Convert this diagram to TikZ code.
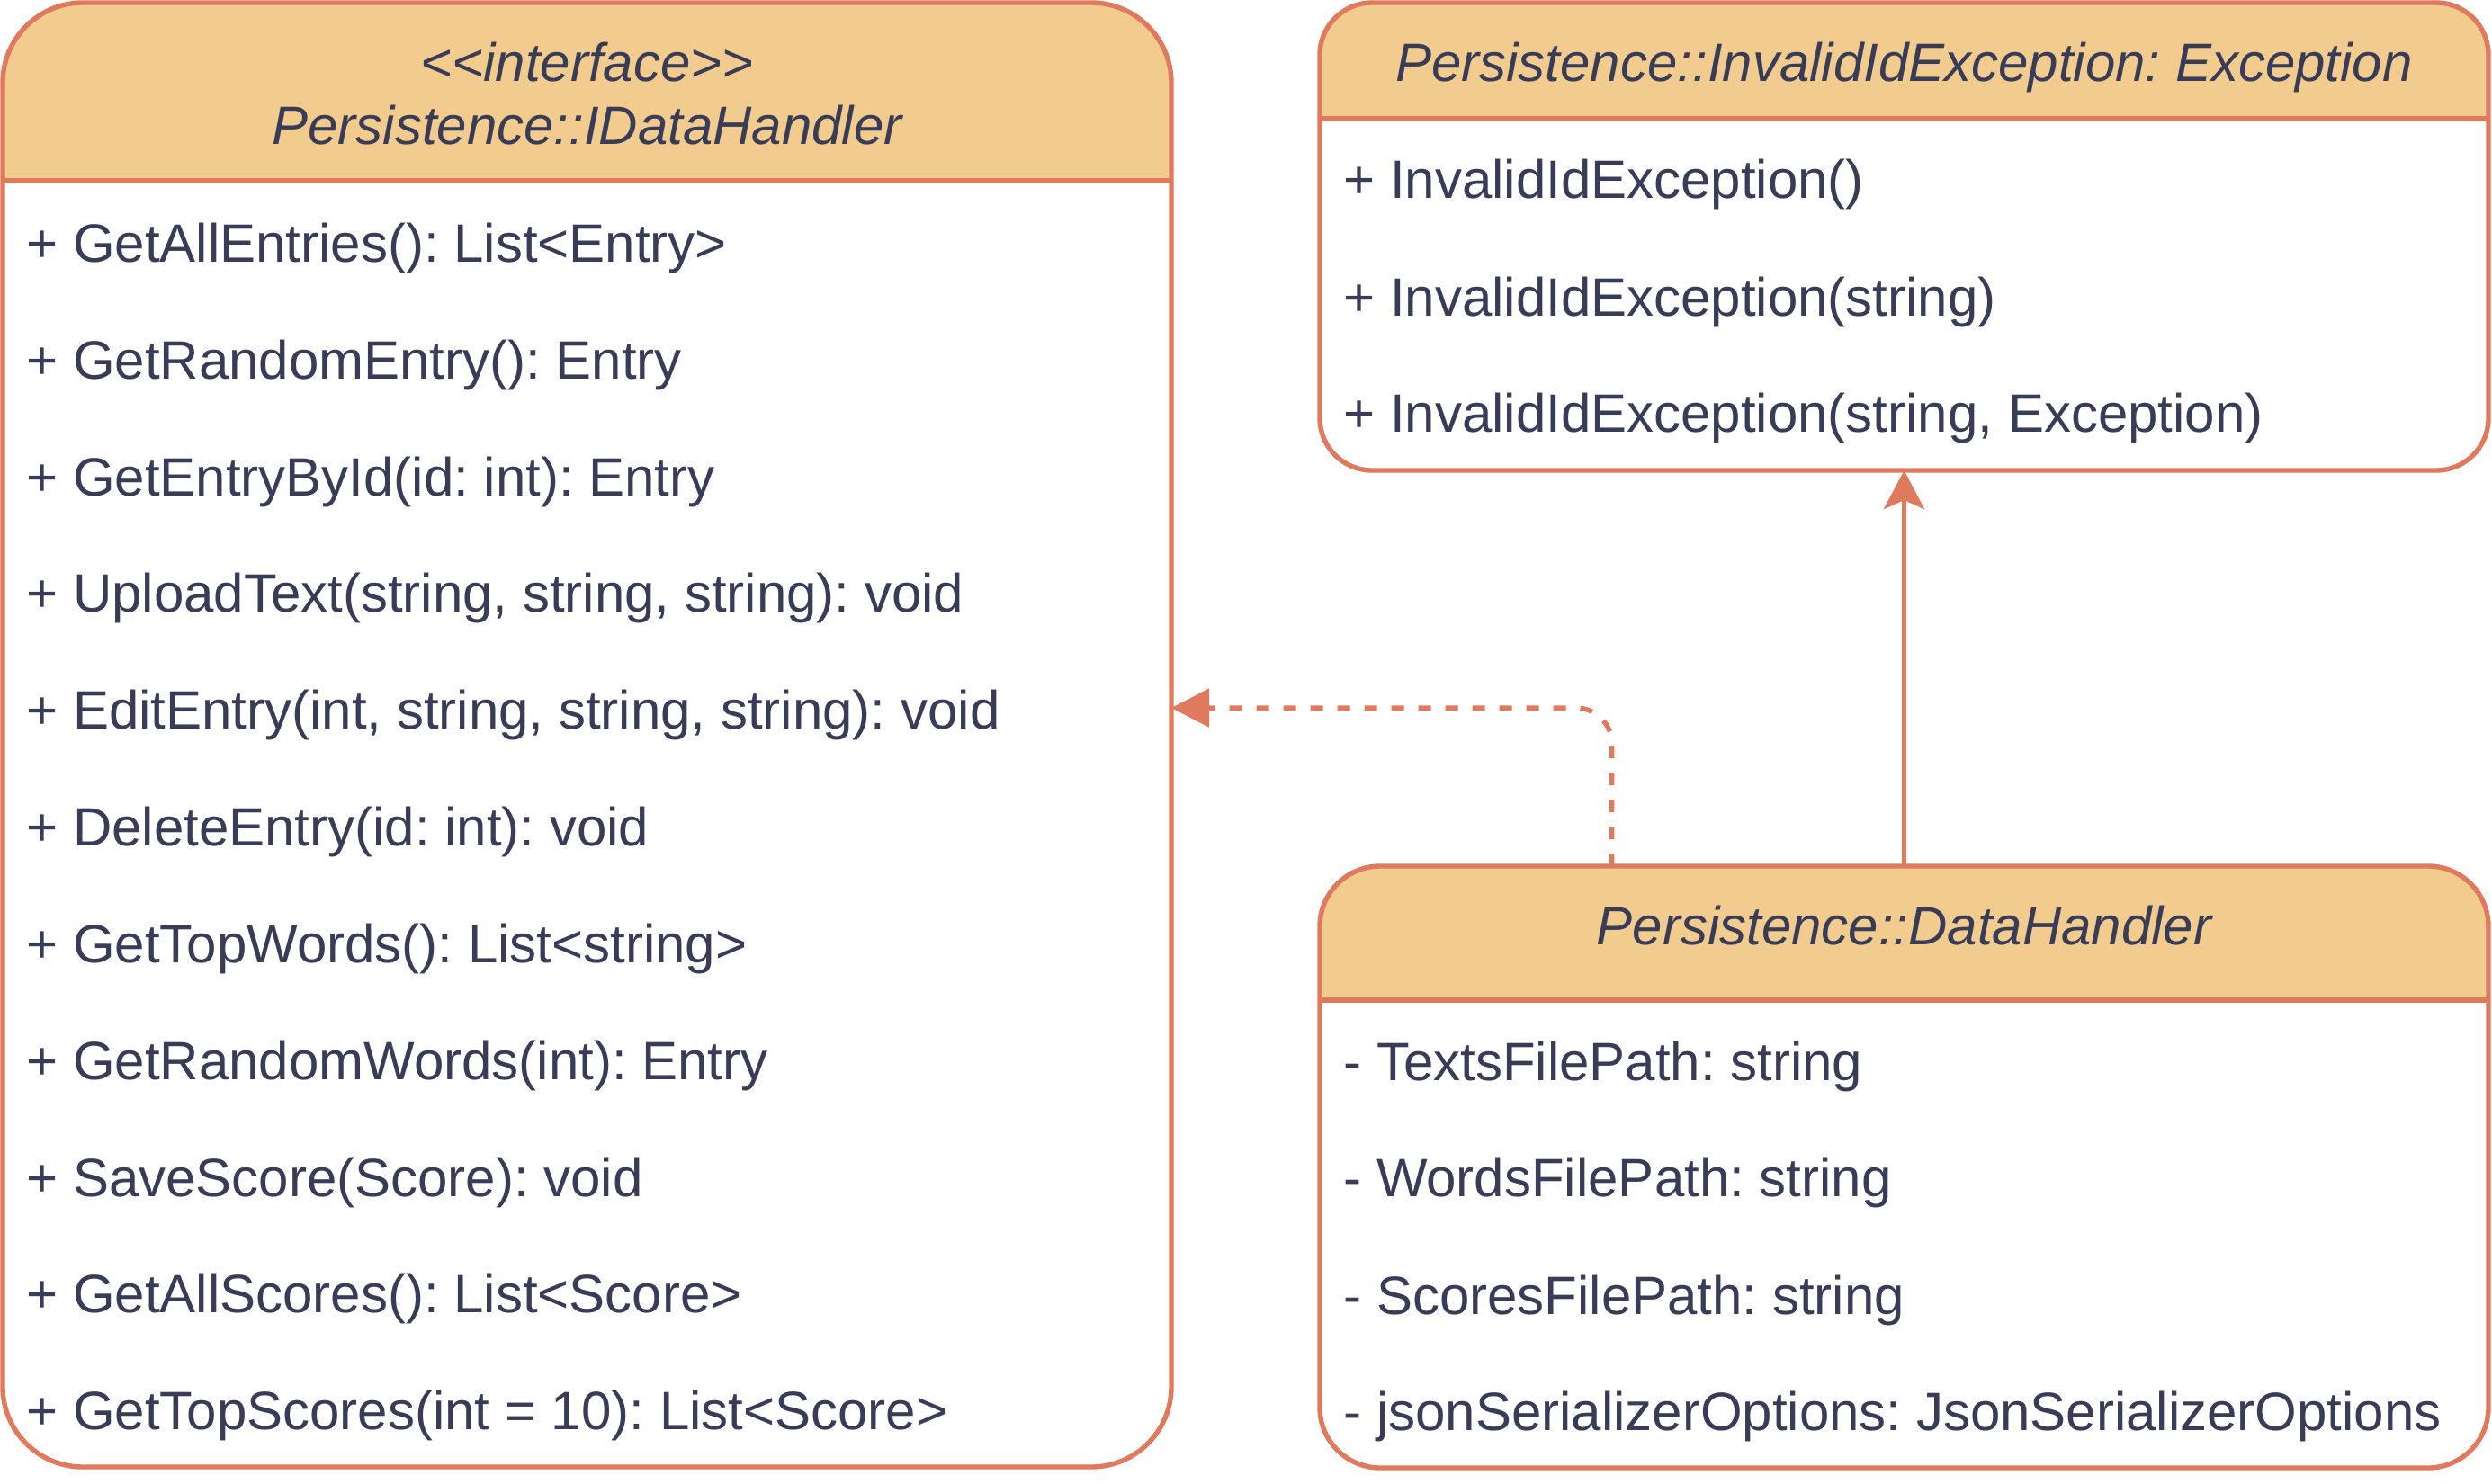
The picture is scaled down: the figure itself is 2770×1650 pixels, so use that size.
\documentclass[tikz,border=0pt]{standalone}
\usepackage{fontspec}
\setmainfont{Liberation Sans}[Ligatures=TeXOff]
\usetikzlibrary{arrows.meta,calc}
\definecolor{strokec}{HTML}{E07A5F}
\definecolor{hdrfill}{HTML}{F2CC8F}
\definecolor{ink}{HTML}{393C56}
\frenchspacing
\begin{document}
\frenchspacing
\begin{tikzpicture}[x=0.5pt,y=-0.5pt,
  font=\fontsize{30}{36}\selectfont\frenchspacing, text=ink,
  classbox/.style={draw=strokec, line width=2.7pt, fill=white, inner sep=0pt, outer sep=0pt, minimum width=649.5pt},
  hdr/.style={path picture={\fill[hdrfill, sharp corners] (path picture bounding box.north west) rectangle ([yshift=-#1]path picture bounding box.north east);}},
  row/.style={anchor=base west, inner sep=0pt, text=ink},
  title/.style={anchor=base, inner sep=0pt, text=ink, font=\fontsize{30}{36}\selectfont\itshape\frenchspacing},
  divider/.style={draw=strokec, line width=2.7pt},
  rel/.style={draw=strokec, line width=2.7pt}
]
\useasboundingbox (0,0) rectangle (2770,1650);

% --- class boxes ---
\node[classbox, minimum height=814pt, rounded corners=44.5pt, hdr=99pt] (ifc) at (652.5,817) {};
\node[classbox, minimum height=260pt, rounded corners=29pt, hdr=64.5pt] (exc) at (2116.5,263) {};
\node[classbox, minimum height=334.5pt, rounded corners=33.5pt, hdr=74.5pt] (dh) at (2116.5,1297.5) {};

% --- dividers ---
\draw[divider] (ifc.west |- 0,201) -- (ifc.east |- 0,201);
\draw[divider] (exc.west |- 0,132) -- (exc.east |- 0,132);
\draw[divider] (dh.west |- 0,1112) -- (dh.east |- 0,1112);

% --- titles ---
\node[title] (ifcst) at (652.5,90) {<<interface>>};
\node[title] (ifcname) at (652.5,160) {Persistence::IDataHandler};
\node[title] (excname) at (2116.5,90) {Persistence::InvalidIdException: Exception};
\node[title] (dhname) at (2116.5,1050) {Persistence::DataHandler};

% --- IDataHandler members ---
\node[row] (m1) at (29,291.3) {+ GetAllEntries(): List<Entry>};
\node[row] (m2) at (29,421.1) {+ GetRandomEntry(): Entry};
\node[row] (m3) at (29,551.0) {+ GetEntryById(id: int): Entry};
\node[row] (m4) at (29,680.8) {+ UploadText(string, string, string): void};
\node[row] (m5) at (29,810.7) {+ EditEntry(int, string, string, string): void};
\node[row] (m6) at (29,940.5) {+ DeleteEntry(id: int): void};
\node[row] (m7) at (29,1070.3) {+ GetTopWords(): List<string>};
\node[row] (m8) at (29,1200.2) {+ GetRandomWords(int): Entry};
\node[row] (m9) at (29,1330.0) {+ SaveScore(Score): void};
\node[row] (m10) at (29,1459.9) {+ GetAllScores(): List<Score>};
\node[row] (m11) at (29,1589.7) {+ GetTopScores(int = 10): List<Score>};

% --- InvalidIdException members ---
\node[row] (e1) at (1493,220.6) {+ InvalidIdException()};
\node[row] (e2) at (1493,351.4) {+ InvalidIdException(string)};
\node[row] (e3) at (1493,480.3) {+ InvalidIdException(string, Exception)};

% --- DataHandler members ---
\node[row] (d1) at (1493,1201) {- TextsFilePath: string};
\node[row] (d2) at (1493,1330) {- WordsFilePath: string};
\node[row] (d3) at (1493,1461) {- ScoresFilePath: string};
\node[row] (d4) at (1493,1590) {- jsonSerializerOptions: JsonSerializerOptions};

% --- connectors ---
\coordinate (dsrc) at ($(dh.north west)!0.25!(dh.north east)$);
\coordinate (dtgt) at ($(ifc.north east)!0.4816!(ifc.south east)$);
\draw[rel, dash pattern=on 7pt off 8pt, rounded corners=20pt, -{Triangle[length=21pt,width=21pt]}] (dsrc) |- (dtgt);
\draw[rel, -{Stealth[length=21.5pt,width=22.5pt,inset=5pt]}] (dh.north) -- (exc.south);
\end{tikzpicture}
\end{document}
